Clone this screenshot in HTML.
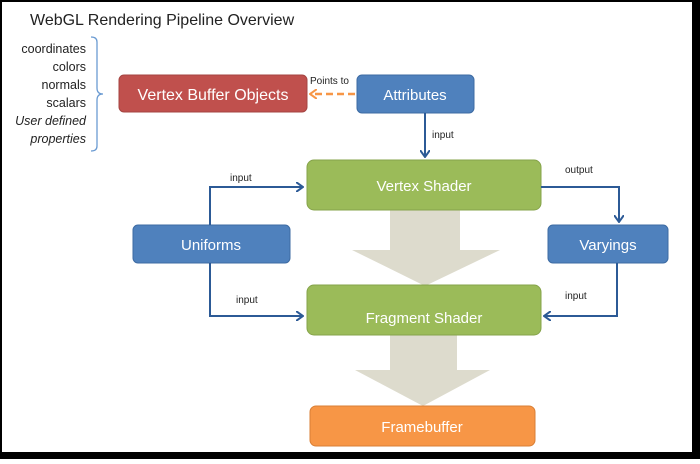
<!DOCTYPE html>
<html><head><style>
body{margin:0;width:700px;height:459px;background:#fff;overflow:hidden}
</style></head><body>
<svg width="700" height="459" xmlns="http://www.w3.org/2000/svg" font-family="Liberation Sans, sans-serif">
<rect x="0" y="0" width="700" height="459" fill="#000"/>
<rect x="2" y="2" width="690" height="450" fill="#fff"/>
<text x="30" y="25" font-size="16" fill="#222">WebGL Rendering Pipeline Overview</text>
<g font-size="12.5" fill="#222" text-anchor="end">
<text x="86" y="53">coordinates</text>
<text x="86" y="71">colors</text>
<text x="86" y="89">normals</text>
<text x="86" y="107">scalars</text>
<text x="86" y="125" font-style="italic">User defined</text>
<text x="86" y="143" font-style="italic">properties</text>
</g>
<path d="M91,37 Q97,37 97,42 L97,88 Q97,94 103,94 Q97,94 97,100 L97,146 Q97,151 91,151" fill="none" stroke="#6b9bd2" stroke-width="1.3"/>
<defs>
<marker id="ab" markerWidth="8" markerHeight="10" refX="7" refY="5" orient="auto" markerUnits="userSpaceOnUse"><path d="M0,0 L7,5 L0,10" fill="none" stroke="#2c5a96" stroke-width="2"/></marker>
<marker id="ao" markerWidth="8" markerHeight="10" refX="7" refY="5" orient="auto" markerUnits="userSpaceOnUse"><path d="M0,0 L7,5 L0,10" fill="none" stroke="#f79646" stroke-width="2"/></marker>
</defs>
<path d="M390,210 H460 V250 H500 L425,286 L352,250 H390Z" fill="#dddbcd"/>
<path d="M390,335 H457 V370 H490 L423,406 L355,370 H390Z" fill="#dddbcd"/>
<rect x="119" y="75" width="188" height="37" rx="5" fill="#c0504d" stroke="#a54542"/>
<text x="213" y="100" font-size="16" fill="#fff" text-anchor="middle">Vertex Buffer Objects</text>
<rect x="357" y="75" width="117" height="38" rx="5" fill="#4f81bd" stroke="#3d6ba3"/>
<text x="415" y="100" font-size="15" fill="#fff" text-anchor="middle">Attributes</text>
<line x1="355" y1="94" x2="310" y2="94" stroke="#f79646" stroke-width="2.5" stroke-dasharray="7,4" marker-end="url(#ao)"/>
<text x="310" y="84" font-size="10" fill="#222">Points to</text>
<line x1="425" y1="113" x2="425" y2="157" stroke="#2c5a96" stroke-width="2" marker-end="url(#ab)"/>
<text x="432" y="138" font-size="10" fill="#222">input</text>
<rect x="307" y="160" width="234" height="50" rx="7" fill="#9bbb59" stroke="#85a34a"/>
<text x="424" y="191" font-size="15" fill="#fff" text-anchor="middle">Vertex Shader</text>
<rect x="307" y="285" width="234" height="50" rx="7" fill="#9bbb59" stroke="#85a34a"/>
<text x="424" y="323" font-size="15" fill="#fff" text-anchor="middle">Fragment Shader</text>
<rect x="133" y="225" width="157" height="38" rx="5" fill="#4f81bd" stroke="#3d6ba3"/>
<text x="211" y="250" font-size="15" fill="#fff" text-anchor="middle">Uniforms</text>
<rect x="548" y="225" width="120" height="38" rx="5" fill="#4f81bd" stroke="#3d6ba3"/>
<text x="608" y="250" font-size="15" fill="#fff" text-anchor="middle">Varyings</text>
<rect x="310" y="406" width="225" height="40" rx="6" fill="#f79646" stroke="#d97f35"/>
<text x="422" y="432" font-size="15" fill="#fff" text-anchor="middle">Framebuffer</text>
<g fill="none" stroke="#2c5a96" stroke-width="2">
<path d="M210,225 V187 H303" marker-end="url(#ab)"/>
<path d="M210,263 V316 H303" marker-end="url(#ab)"/>
<path d="M541,187 H619 V222" marker-end="url(#ab)"/>
<path d="M617,263 V316 H544" marker-end="url(#ab)"/>
</g>
<g font-size="10" fill="#222">
<text x="230" y="181">input</text>
<text x="236" y="303">input</text>
<text x="565" y="173">output</text>
<text x="565" y="299">input</text>
</g>
</svg>
</body></html>
